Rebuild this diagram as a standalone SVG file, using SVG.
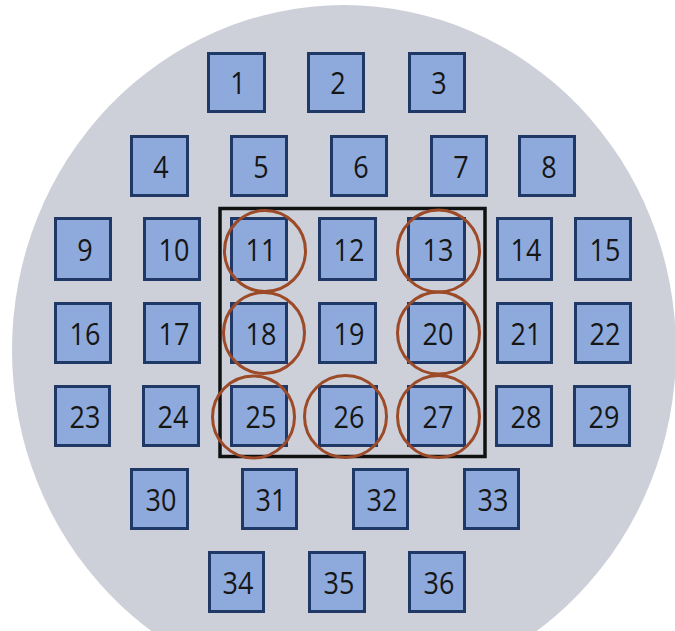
<svg xmlns="http://www.w3.org/2000/svg" width="675" height="631" viewBox="0 0 675 631">
<style>
.die rect{fill:#8eaadc;stroke:#1f3866;stroke-width:3}
.die text{font-family:"Open Sans","Liberation Sans",sans-serif;font-size:30px;fill:#161616;text-anchor:middle;transform-box:fill-box;transform-origin:center;transform:scale(0.9,1.06)}
.ring{fill:none;stroke:#9c4a28;stroke-width:3}
</style>
<rect width="675" height="631" fill="#ffffff"/>
<ellipse id="wafer" cx="344" cy="350" rx="332" ry="345" fill="#cdd0d8"/>
<g id="d1" class="die"><rect x="208.5" y="53.5" width="56" height="58"/><text x="238" y="93">1</text></g>
<g id="d2" class="die"><rect x="308.5" y="53.5" width="55" height="58"/><text x="338" y="93">2</text></g>
<g id="d3" class="die"><rect x="409.5" y="53.5" width="55" height="58"/><text x="439" y="93">3</text></g>
<g id="d4" class="die"><rect x="131.5" y="136.5" width="56" height="59"/><text x="161" y="177">4</text></g>
<g id="d5" class="die"><rect x="231.5" y="136.5" width="55" height="59"/><text x="261" y="177">5</text></g>
<g id="d6" class="die"><rect x="331.5" y="136.5" width="55" height="59"/><text x="361" y="177">6</text></g>
<g id="d7" class="die"><rect x="431.5" y="136.5" width="55" height="59"/><text x="461" y="177">7</text></g>
<g id="d8" class="die"><rect x="519.5" y="136.5" width="55" height="59"/><text x="549" y="177">8</text></g>
<g id="d9" class="die"><rect x="55.5" y="218.5" width="55" height="61"/><text x="85" y="260">9</text></g>
<g id="d10" class="die"><rect x="144.5" y="218.5" width="55" height="61"/><text x="174" y="260">10</text></g>
<g id="d11" class="die"><rect x="231.5" y="218.5" width="55" height="61"/><text x="261" y="260">11</text></g>
<g id="d12" class="die"><rect x="319.5" y="218.5" width="56" height="61"/><text x="349" y="260">12</text></g>
<g id="d13" class="die"><rect x="408.5" y="218.5" width="56" height="61"/><text x="438" y="260">13</text></g>
<g id="d14" class="die"><rect x="497.5" y="218.5" width="54" height="61"/><text x="526" y="260">14</text></g>
<g id="d15" class="die"><rect x="575.5" y="218.5" width="55" height="61"/><text x="605" y="260">15</text></g>
<g id="d16" class="die"><rect x="55.5" y="303.5" width="55" height="59"/><text x="85" y="344">16</text></g>
<g id="d17" class="die"><rect x="144.5" y="303.5" width="55" height="59"/><text x="174" y="344">17</text></g>
<g id="d18" class="die"><rect x="231.5" y="303.5" width="55" height="59"/><text x="261" y="344">18</text></g>
<g id="d19" class="die"><rect x="319.5" y="303.5" width="56" height="59"/><text x="349" y="344">19</text></g>
<g id="d20" class="die"><rect x="408.5" y="303.5" width="56" height="59"/><text x="438" y="344">20</text></g>
<g id="d21" class="die"><rect x="497.5" y="303.5" width="54" height="59"/><text x="526" y="344">21</text></g>
<g id="d22" class="die"><rect x="575.5" y="303.5" width="55" height="59"/><text x="605" y="344">22</text></g>
<g id="d23" class="die"><rect x="55.5" y="386.5" width="54" height="59"/><text x="85" y="427">23</text></g>
<g id="d24" class="die"><rect x="143.5" y="386.5" width="55" height="59"/><text x="173" y="427">24</text></g>
<g id="d25" class="die"><rect x="231.5" y="386.5" width="55" height="59"/><text x="261" y="427">25</text></g>
<g id="d26" class="die"><rect x="319.5" y="386.5" width="57" height="59"/><text x="349" y="427">26</text></g>
<g id="d27" class="die"><rect x="408.5" y="386.5" width="56" height="59"/><text x="438" y="427">27</text></g>
<g id="d28" class="die"><rect x="496.5" y="386.5" width="55" height="59"/><text x="526" y="427">28</text></g>
<g id="d29" class="die"><rect x="574.5" y="386.5" width="55" height="59"/><text x="604" y="427">29</text></g>
<g id="d30" class="die"><rect x="131.5" y="469.5" width="56" height="59"/><text x="161" y="510">30</text></g>
<g id="d31" class="die"><rect x="242.5" y="469.5" width="54" height="59"/><text x="271" y="510">31</text></g>
<g id="d32" class="die"><rect x="353.5" y="469.5" width="54" height="59"/><text x="382" y="510">32</text></g>
<g id="d33" class="die"><rect x="464.5" y="469.5" width="54" height="59"/><text x="493" y="510">33</text></g>
<g id="d34" class="die"><rect x="209.5" y="552.5" width="54" height="59"/><text x="238" y="593">34</text></g>
<g id="d35" class="die"><rect x="309.5" y="552.5" width="55" height="59"/><text x="339" y="593">35</text></g>
<g id="d36" class="die"><rect x="409.5" y="552.5" width="55" height="59"/><text x="439" y="593">36</text></g>
<g id="selection">
<rect x="220" y="208.5" width="265" height="248" fill="none" stroke="#111111" stroke-width="3.5"/>
<circle class="ring" cx="265" cy="251" r="40.5"/>
<circle class="ring" cx="438.5" cy="251" r="41"/>
<circle class="ring" cx="264" cy="333" r="40.5"/>
<circle class="ring" cx="438.5" cy="333" r="41"/>
<circle class="ring" cx="253.5" cy="417" r="41"/>
<circle class="ring" cx="345.5" cy="416.5" r="41"/>
<circle class="ring" cx="438.5" cy="416.5" r="41"/>
</g>
</svg>
